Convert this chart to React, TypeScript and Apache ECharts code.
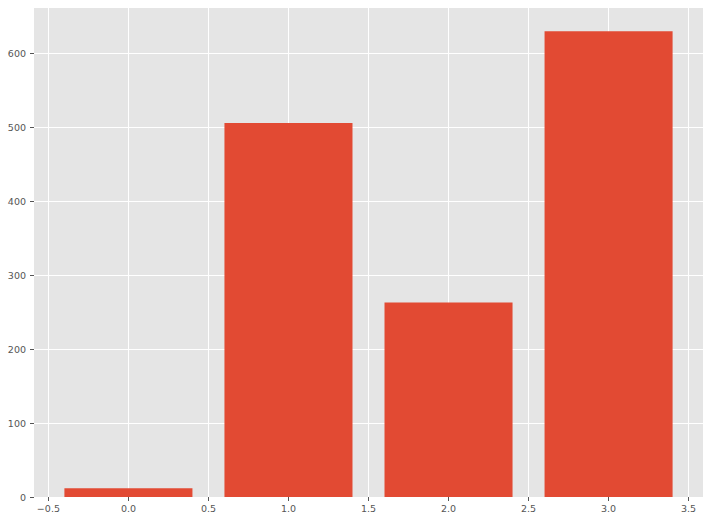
import React, { useEffect, useRef } from "react";
import * as echarts from "echarts";

const positions = [0, 1, 2, 3];
const values = [12, 506, 263, 630];
const xTicks = [-0.5, 0, 0.5, 1, 1.5, 2, 2.5, 3, 3.5];
const yTicks = [0, 100, 200, 300, 400, 500, 600];

const BAR_HALF = 0.4;

export default function App() {
  const ref = useRef<HTMLDivElement>(null);
  useEffect(() => {
    if (!ref.current) return;
    const chart = echarts.init(ref.current, undefined, { renderer: "svg" });
    const labelStyle = { color: "#555555", fontSize: 9.5, fontFamily: "DejaVu Sans" };
    chart.setOption({
      animation: false,
      backgroundColor: "#ffffff",
      grid: {
        left: 34,
        right: 7,
        top: 8,
        bottom: 23,
        show: true,
        backgroundColor: "#E5E5E5",
        borderWidth: 0,
      },
      xAxis: {
        type: "value",
        min: -0.59,
        max: 3.59,
        axisLine: { show: false, onZero: false },
        axisTick: { show: true, length: 4, lineStyle: { color: "#555555" }, customValues: xTicks },
        axisLabel: {
          ...labelStyle,
          margin: 6,
          customValues: xTicks,
          formatter: (v: number) => (v < 0 ? "\u2212" : "") + Math.abs(v).toFixed(1),
        },
        splitLine: { show: true, lineStyle: { color: "#ffffff", width: 1 } },
      },
      yAxis: {
        type: "value",
        min: 0,
        max: Math.max(...values) * 1.05,
        axisLine: { show: false, onZero: false },
        axisTick: { show: true, length: 4, lineStyle: { color: "#555555" }, customValues: yTicks },
        axisLabel: { ...labelStyle, margin: 8, customValues: yTicks },
        splitLine: { show: true, lineStyle: { color: "#ffffff", width: 1 } },
      },
      series: [
        {
          type: "custom",
          data: positions.map((p, i) => [p, values[i]]),
          encode: { x: 0, y: 1 },
          renderItem: (params: any, api: any) => {
            const x = api.value(0);
            const v = api.value(1);
            const p0 = api.coord([x - BAR_HALF, v]);
            const p1 = api.coord([x + BAR_HALF, 0]);
            return {
              type: "rect",
              shape: { x: p0[0], y: p0[1], width: p1[0] - p0[0], height: p1[1] - p0[1] },
              style: { fill: "#E24A33", stroke: "none", lineWidth: 0 },
            };
          },
        },
      ],
    });
    return () => chart.dispose();
  }, []);
  return (
    <div
      ref={ref}
      style={{ position: "fixed", left: 0, top: 0, width: 710, height: 520 }}
    />
  );
}
